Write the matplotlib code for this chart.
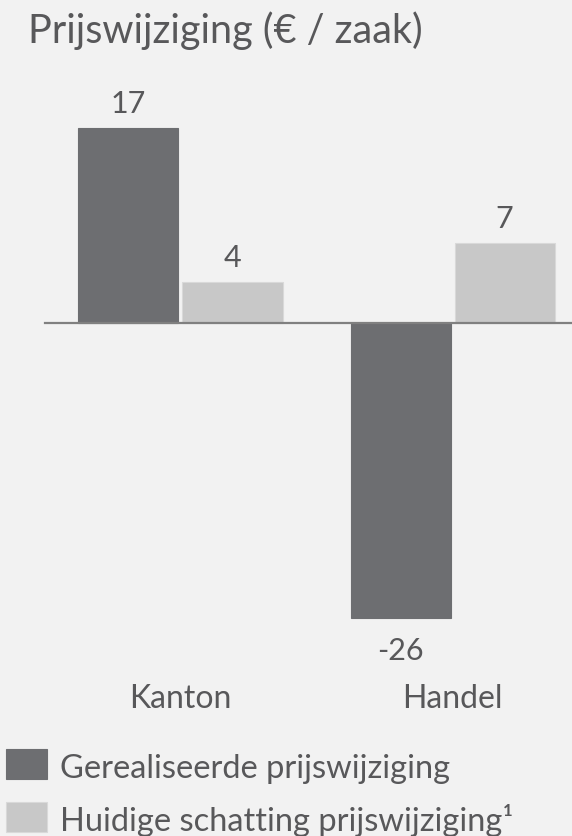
import matplotlib
matplotlib.use("Agg")
import matplotlib.pyplot as plt
from matplotlib.patches import Rectangle

categories = ["Kanton", "Handel"]
realised = [17.0, -25.85]
estimate = [3.55, 6.9]
series_names = ["Gerealiseerde prijswijziging", "Huidige schatting prijswijziging\u00b9"]
title = "Prijswijziging (\u20ac / zaak)"

BG = "#f2f2f2"
DARK = "#6d6e71"
LIGHT = "#c8c8c8"
LIGHT_EDGE = "#d9d9d9"
TXT = "#58585a"
FONT = "Lato"

plt.rcParams['font.family'] = [FONT, 'DejaVu Sans']

W, H = 572, 837
fig = plt.figure(figsize=(W / 100, H / 100), dpi=100, facecolor=BG)
ax = fig.add_axes([0, 0, 1, 1])
ax.set_facecolor(BG)

x = list(range(len(categories)))
w = 100 / 272
off = 52 / 272
b1 = ax.bar([i - off for i in x], realised, width=w, color=DARK, edgecolor=DARK, linewidth=0.8)
b2 = ax.bar([i + off for i in x], estimate, width=w, color=LIGHT, edgecolor=LIGHT_EDGE, linewidth=0.8)

scale = 11.45
ax.set_xlim(-180.5 / 272, (W - 180.5) / 272)
ax.set_ylim(-(H - 323.5) / scale, 323.5 / scale)
ax.axhline(0, xmin=44.5 / W, xmax=1, color="#808080", linewidth=1.6, zorder=3)

for bars, vals in ((b1, realised), (b2, estimate)):
    for r, v in zip(bars, vals):
        cx = r.get_x() + r.get_width() / 2
        lab = f"{v:.0f}"
        if v >= 0:
            ax.annotate(lab, (cx, v), xytext=(0, 8), textcoords="offset points",
                        ha="center", va="bottom", fontsize=22, color=TXT)
        else:
            ax.annotate(lab, (cx, v), xytext=(0, -29.5), textcoords="offset points",
                        ha="center", va="baseline", fontsize=22, color=TXT)

for i, c in zip(x, categories):
    ax.text(i, -(708 - 323.5) / scale, c, ha="center", va="baseline", fontsize=23, color=TXT)

ax.axis("off")

fig.text(28 / W, 1 - 43 / H, title, ha="left", va="baseline", fontsize=28.5, color=TXT)

# legend
for (y0, y1), name, fc, ec, base in (((750, 780), series_names[0], DARK, DARK, 778),
                                      ((803, 833), series_names[1], LIGHT, LIGHT_EDGE, 831)):
    fig.patches.append(Rectangle((6 / W, 1 - y1 / H), 41 / W, (y1 - y0) / H,
                                 transform=fig.transFigure, facecolor=fc, edgecolor=ec,
                                 linewidth=0.8))
    fig.text(60 / W, 1 - base / H, name, ha="left", va="baseline", fontsize=23.5, color=TXT)

fig.savefig("out.png", dpi=100, facecolor=BG)
